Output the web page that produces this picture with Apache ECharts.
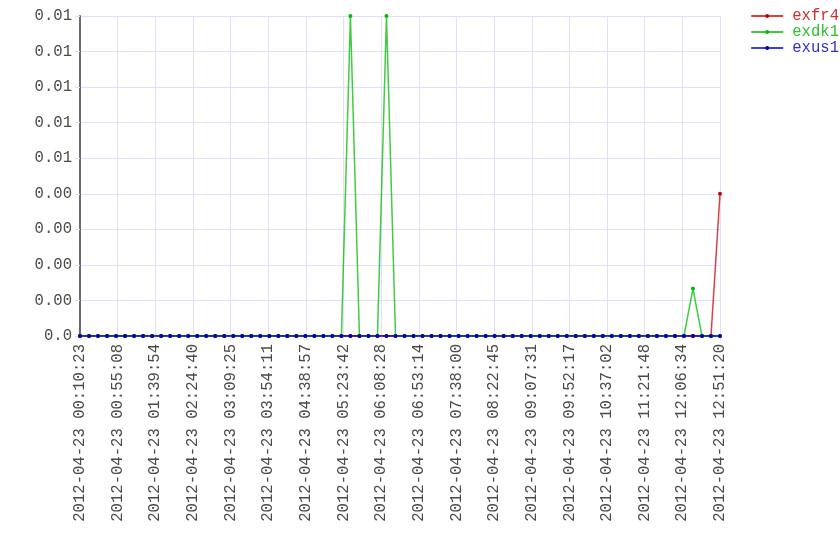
<!DOCTYPE html>
<html>
<head>
<meta charset="utf-8">
<script src="https://cdn.jsdelivr.net/npm/echarts@6/dist/echarts.min.js"></script>
<style>html,body{margin:0;padding:0;background:#fff;}#chart{width:840px;height:560px;}</style>
</head>
<body>
<div id="chart"></div>
<script>
// Sample times: first timestamp plus offsets in seconds
var startTime = '2012-04-23 00:10:23';
var timeOffsets = [
  0, 643, 1286, 1929, 2572, 3215, 3858, 4501, 5144, 5788, 6431, 7074,
  7717, 8360, 9003, 9646, 10289, 10932, 11575, 12218, 12861, 13504, 14147, 14790,
  15433, 16076, 16719, 17363, 18006, 18649, 19292, 19935, 20578, 21221, 21864, 22507,
  23150, 23793, 24436, 25079, 25722, 26365, 27008, 27651, 28294, 28938, 29581, 30224,
  30867, 31510, 32153, 32796, 33439, 34082, 34725, 35368, 36011, 36654, 37297, 37940,
  38583, 39226, 39869, 40513, 41156, 41799, 42442, 43085, 43728, 44371, 45014, 45657
];
var seriesNames = ['exfr4', 'exdk1', 'exus1'];
var exfr4 = [
  0,0,0,0,0,0,0,0,0,0,0,0,
  0,0,0,0,0,0,0,0,0,0,0,0,
  0,0,0,0,0,0,0,0,0,0,0,0,
  0,0,0,0,0,0,0,0,0,0,0,0,
  0,0,0,0,0,0,0,0,0,0,0,0,
  0,0,0,0,0,0,0,0,0,0,0,0.0048
];
var exdk1 = [
  0,0,0,0,0,0,0,0,0,0,0,0,
  0,0,0,0,0,0,0,0,0,0,0,0,
  0,0,0,0,0,0,0.0108,0,0,0,0.0108,0,
  0,0,0,0,0,0,0,0,0,0,0,0,
  0,0,0,0,0,0,0,0,0,0,0,0,
  0,0,0,0,0,0,0,0,0.0016,0,0,0
];
var exus1 = [
  0,0,0,0,0,0,0,0,0,0,0,0,
  0,0,0,0,0,0,0,0,0,0,0,0,
  0,0,0,0,0,0,0,0,0,0,0,0,
  0,0,0,0,0,0,0,0,0,0,0,0,
  0,0,0,0,0,0,0,0,0,0,0,0,
  0,0,0,0,0,0,0,0,0,0,0,0
];
var xLabelCount = 17;       // number of equal label intervals on the time axis
var yMax = 0.0108, yStep = 0.0012;

var seriesColors = ['#cc0000', '#00bb00', '#0000cc'];
var legendTextColors = ['#d03030', '#30c030', '#3030d0'];

var span = timeOffsets[timeOffsets.length - 1];
function parseStart(s) {
  var p = s.split(' ')[1].split(':');
  return (+p[0]) * 3600 + (+p[1]) * 60 + (+p[2]);
}
var startSec = parseStart(startTime);
var datePart = startTime.split(' ')[0];
function pad(n) { return (n < 10 ? '0' : '') + n; }
function fmtTime(v) {
  var s = Math.floor(v * span / xLabelCount + 1e-6) + startSec;
  var h = Math.floor(s / 3600), m = Math.floor((s % 3600) / 60), sec = s % 60;
  return datePart + ' ' + pad(h) + ':' + pad(m) + ':' + pad(sec);
}
function toUnits(off) { return off / span * xLabelCount; }
function build(vals) {
  return vals.map(function (v, i) { return [toUnits(timeOffsets[i]), v]; });
}
var allData = [exfr4, exdk1, exus1];
var FONT = 'Liberation Mono';
var FS = 15.6;

var chart = echarts.init(document.getElementById('chart'), null, { renderer: 'canvas' });
chart.setOption({
  animation: false,
  backgroundColor: '#ffffff',
  grid: { left: 80, right: 120, top: 16, bottom: 224, containLabel: false },
  legend: {
    orient: 'vertical',
    right: -4,
    top: 3,
    itemWidth: 32,
    itemHeight: 5,
    itemGap: 0,
    textStyle: { fontFamily: FONT, fontSize: FS, lineHeight: 16, padding: [0, 0, 0, 4] },
    data: seriesNames.map(function (n, i) {
      return { name: n, textStyle: { color: legendTextColors[i] } };
    })
  },
  xAxis: {
    type: 'value',
    min: 0,
    max: xLabelCount,
    interval: 1,
    axisLine: { show: true, lineStyle: { color: '#6a6a70', width: 2 } },
    axisTick: { show: true, length: 4, lineStyle: { color: '#e0e0fc' } },
    splitLine: { show: true, lineStyle: { color: '#e0e0fc', width: 1 } },
    axisLabel: {
      rotate: 90,
      margin: 8,
      fontFamily: FONT,
      fontSize: FS,
      color: '#4a4a4a',
      formatter: fmtTime
    }
  },
  yAxis: {
    type: 'value',
    min: 0,
    max: yMax,
    interval: yStep,
    axisLine: { show: true, lineStyle: { color: '#6a6a70', width: 2 } },
    axisTick: { show: true, length: 5, lineStyle: { color: '#e0e0fc' } },
    splitLine: { show: true, lineStyle: { color: '#e0e0fc', width: 1 } },
    axisLabel: {
      margin: 8,
      fontFamily: FONT,
      fontSize: FS,
      color: '#4a4a4a',
      formatter: function (v) {
        if (v === 0) return '0.0';
        return (Math.round(v * 100) / 100).toFixed(2);
      }
    }
  },
  series: seriesNames.map(function (n, i) {
    return {
      name: n,
      type: 'line',
      data: build(allData[i]),
      symbol: 'circle',
      symbolSize: 4,
      showSymbol: true,
      color: seriesColors[i],
      lineStyle: { width: 1.5, color: seriesColors[i], opacity: 0.75 },
      itemStyle: { color: seriesColors[i] },
      z: 2 + i
    };
  })
});
</script>
</body>
</html>
